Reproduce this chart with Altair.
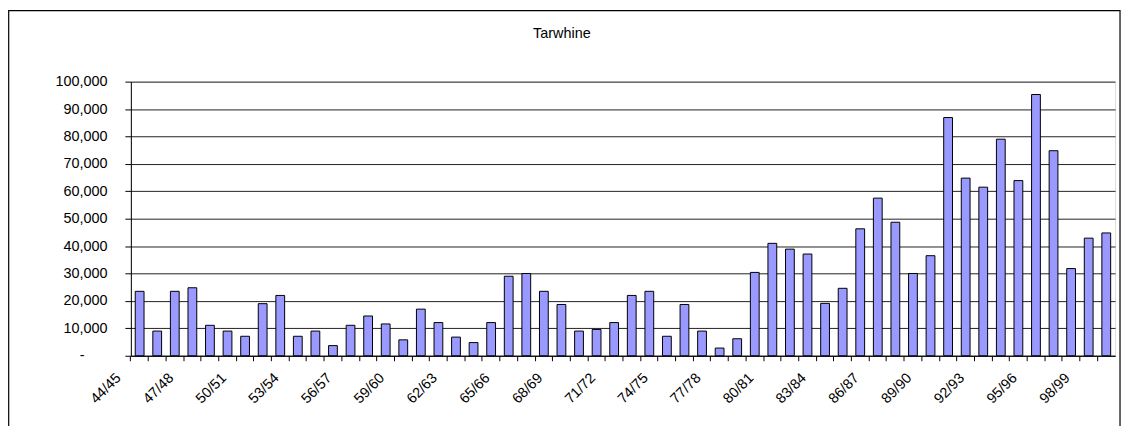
import json
import altair as alt
import pandas as pd

seasons = [
    "44/45", "45/46", "46/47", "47/48", "48/49", "49/50", "50/51", "51/52",
    "52/53", "53/54", "54/55", "55/56", "56/57", "57/58", "58/59", "59/60",
    "60/61", "61/62", "62/63", "63/64", "64/65", "65/66", "66/67", "67/68",
    "68/69", "69/70", "70/71", "71/72", "72/73", "73/74", "74/75", "75/76",
    "76/77", "77/78", "78/79", "79/80", "80/81", "81/82", "82/83", "83/84",
    "84/85", "85/86", "86/87", "87/88", "88/89", "89/90", "90/91", "91/92",
    "92/93", "93/94", "94/95", "95/96", "96/97", "97/98", "98/99", "99/00",
]
catch_kg = [
    23500, 9000, 23500, 24800, 11100, 9000, 7100, 19000,
    22000, 7100, 9000, 3700, 11100, 14500, 11600, 5800,
    17000, 12100, 6800, 4800, 12100, 29000, 30000, 23500,
    18700, 9000, 9600, 12100, 22000, 23500, 7100, 18700,
    9000, 2800, 6200, 30400, 41000, 38900, 37100, 19100,
    24600, 46300, 57500, 48700, 30000, 36500, 86900, 64800,
    61500, 79000, 63900, 95300, 74800, 31800, 42900, 44800,
]
shown_labels = seasons[::3]
y_ticks = list(range(0, 100001, 10000))
chart_title = "Tarwhine"

df = pd.DataFrame({"season": seasons, "catch": catch_kg})
one = pd.DataFrame({"t": [chart_title]})

FONT = "Liberation Sans"
FS = 14.5
PLOT_W, PLOT_H = 991, 276

label_list = json.dumps(shown_labels)

bars = alt.Chart(df).mark_bar(
    color="#9999FF", stroke="#000000", strokeWidth=1,
    width=alt.RelativeBandSize(0.5),
).encode(
    x=alt.X("season:N", sort=seasons,
            scale=alt.Scale(paddingInner=0, paddingOuter=0),
            axis=alt.Axis(
                title=None, bandPosition=0, grid=False,
                labelAngle=-45, labelAlign="right", labelBaseline="middle",
                labelExpr=f"indexof({label_list}, datum.value) >= 0 ? datum.label : ''",
                labelOffset=-21, labelPadding=15, labelOverlap=False,
                labelFont=FONT, labelFontSize=FS, labelColor="#000000",
                tickColor="#000000", tickSize=5, domainColor="#000000",
            )),
    y=alt.Y("catch:Q",
            scale=alt.Scale(domain=[0, 100000], nice=False, zero=True),
            axis=alt.Axis(
                title=None, values=y_ticks,
                labelExpr="datum.value == 0 ? '-' : format(datum.value, ',')",
                grid=True, gridColor="#222222", gridWidth=1,
                labelFont=FONT, labelFontSize=FS, labelColor="#000000",
                labelPadding={"condition": {"test": "datum.value === 0", "value": 41}, "value": 18},
                tickColor="#000000", tickSize=6,
                domainColor="#000000",
            )),
)

title_text = alt.Chart(one).mark_text(
    font=FONT, fontSize=FS, color="#000000", align="center", baseline="middle",
).encode(text="t:N", x=alt.value(434), y=alt.value(-48))

frame = alt.Chart(one).mark_rect(
    fill="#ffffff", fillOpacity=0, stroke="#000000", strokeWidth=1.2,
).encode(x=alt.value(-123), x2=alt.value(996), y=alt.value(-71.5), y2=alt.value(360))

chart = alt.layer(bars, title_text, frame).properties(
    width=PLOT_W, height=PLOT_H,
    autosize=alt.AutoSizeParams(type="none"),
    padding={"left": 123.7, "top": 72.7, "right": 8, "bottom": 70},
).configure_view(
    fill="#C0C0C0", stroke="#808080", strokeWidth=1.5,
).configure(background="#ffffff")

chart.save("out.html", embed_options={"renderer": "svg", "actions": False})
